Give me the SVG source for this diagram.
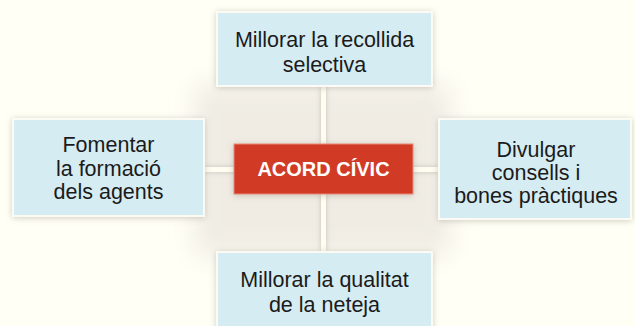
<svg xmlns="http://www.w3.org/2000/svg" width="635" height="326" viewBox="0 0 635 326">
  <defs>
    <filter id="soft" x="-50%" y="-50%" width="200%" height="200%">
      <feGaussianBlur stdDeviation="12"/>
    </filter>
    <filter id="lineShadow" x="-50%" y="-50%" width="200%" height="200%">
      <feDropShadow dx="0" dy="0" stdDeviation="2.5" flood-color="#9a9488" flood-opacity="0.5"/>
    </filter>
    <filter id="boxShadow" x="-20%" y="-20%" width="140%" height="140%">
      <feDropShadow dx="0" dy="1" stdDeviation="3" flood-color="#8a8478" flood-opacity="0.4"/>
    </filter>
    <style>
      .box { fill: #d6ecf3; stroke: #fbfbf3; stroke-width: 2; filter: url(#boxShadow); }
      .center { fill: #d13b26; stroke: #e98a78; stroke-width: 1; filter: url(#boxShadow); }
      .lbl { font-family: "Liberation Sans", Arial, Helvetica, sans-serif; font-size: 21.5px; fill: #1b1b1b; text-anchor: middle; }
      .title { font-family: "Liberation Sans", Arial, Helvetica, sans-serif; font-size: 20px; font-weight: bold; fill: #ffffff; text-anchor: middle; }
      .conn { stroke: #fffdf1; stroke-width: 5; fill: none; }
    </style>
  </defs>

  <rect width="635" height="326" fill="#fffff5"/>
  <rect x="195" y="85" width="255" height="170" fill="#f0ece4" filter="url(#soft)"/>

  <g id="connectors" filter="url(#lineShadow)">
    <line class="conn" x1="323.5" y1="86" x2="323.5" y2="252"/>
    <line class="conn" x1="204" y1="169.5" x2="439" y2="169.5"/>
  </g>

  <g id="node-top">
    <rect class="box" x="217" y="12" width="215" height="74"/>
    <text class="lbl" x="324.5" y="47">Millorar la recollida</text>
    <text class="lbl" x="324.5" y="72">selectiva</text>
  </g>

  <g id="node-left">
    <rect class="box" x="13" y="119" width="191" height="97"/>
    <text class="lbl" x="108.5" y="152">Fomentar</text>
    <text class="lbl" x="108.5" y="175.5">la formació</text>
    <text class="lbl" x="108.5" y="199">dels agents</text>
  </g>

  <g id="node-right">
    <rect class="box" x="439" y="119" width="192" height="100"/>
    <text class="lbl" x="536" y="157">Divulgar</text>
    <text class="lbl" x="536" y="180">consells i</text>
    <text class="lbl" x="536" y="203">bones pràctiques</text>
  </g>

  <g id="node-bottom">
    <rect class="box" x="217" y="252" width="215" height="90"/>
    <text class="lbl" x="324.5" y="287">Millorar la qualitat</text>
    <text class="lbl" x="324.5" y="312">de la neteja</text>
  </g>

  <g id="node-center">
    <rect class="center" x="234" y="144" width="179" height="50"/>
    <text class="title" x="323.5" y="176">ACORD CÍVIC</text>
  </g>
</svg>
